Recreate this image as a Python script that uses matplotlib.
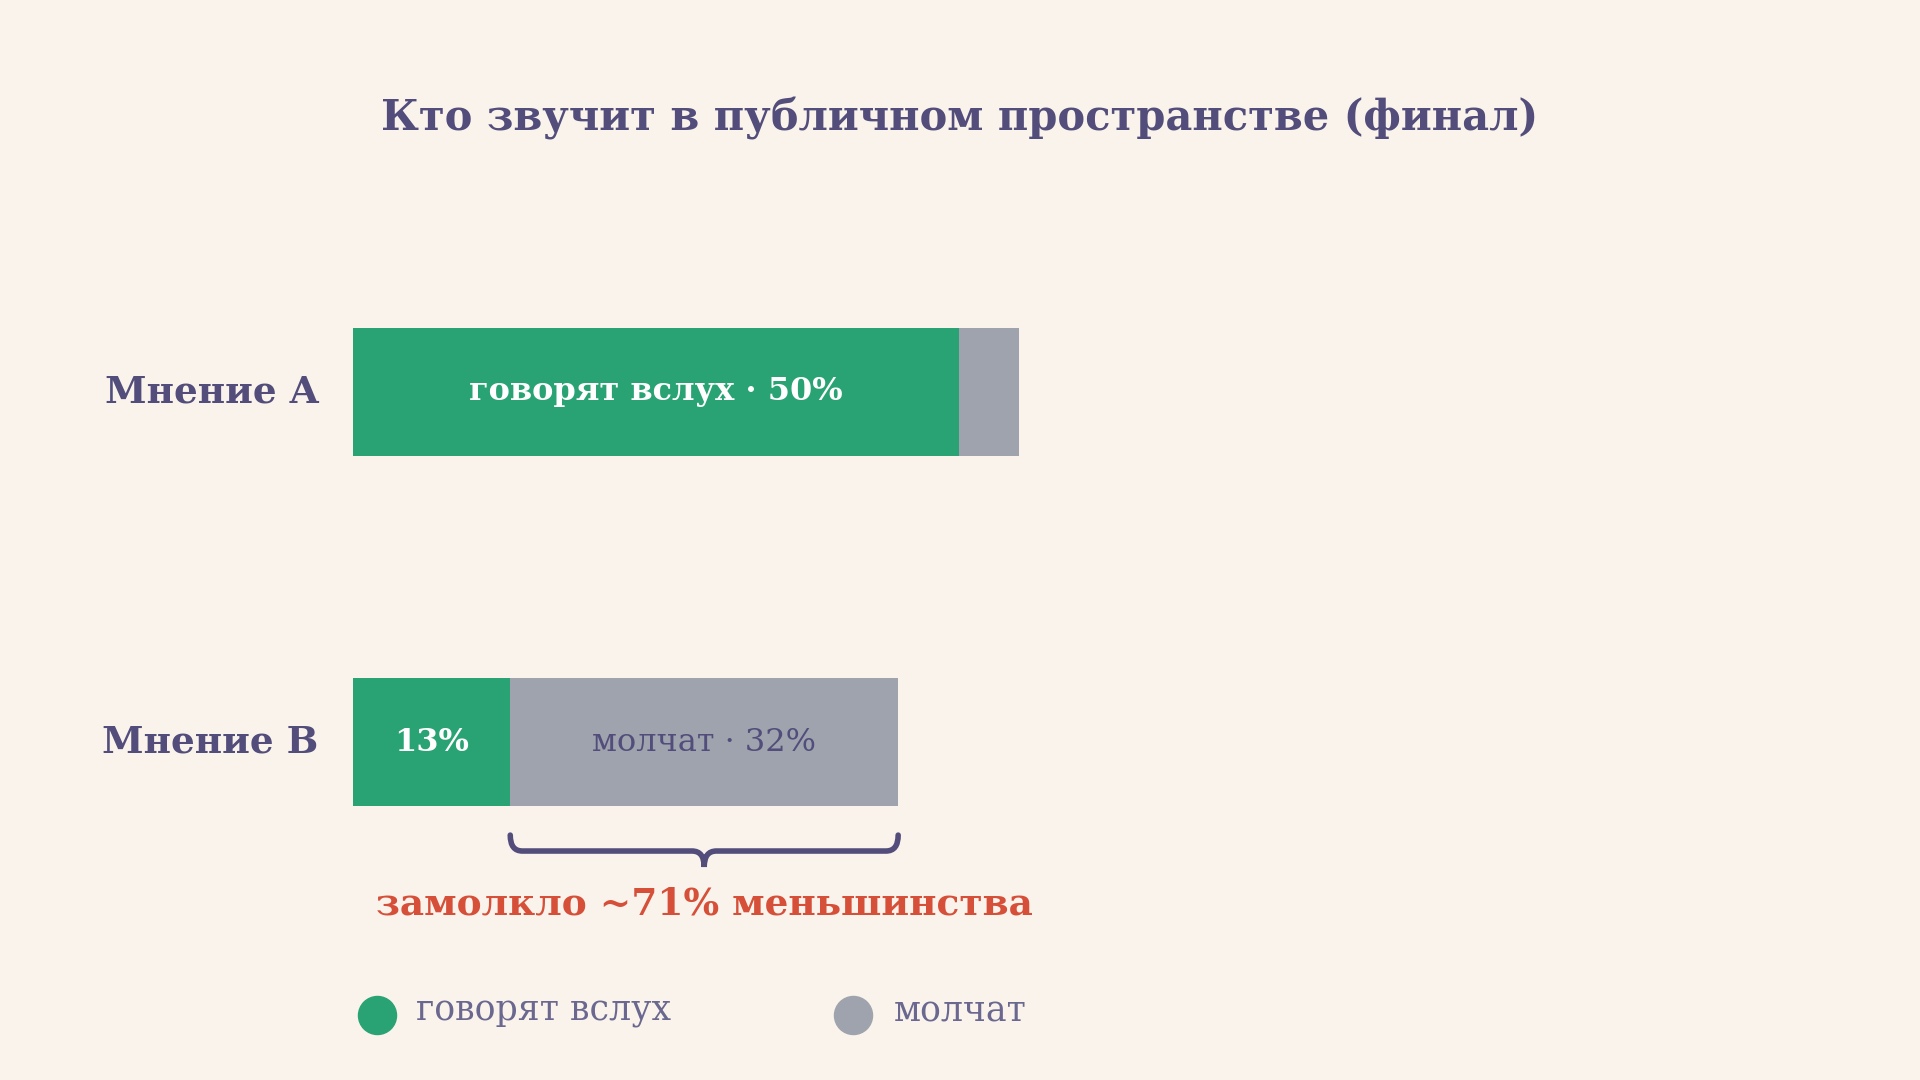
import matplotlib
matplotlib.use("Agg")
import matplotlib.pyplot as plt
from matplotlib.path import Path
from matplotlib.patches import PathPatch, Circle

categories = ["Мнение A", "Мнение B"]
speak = [50, 13]
silent = [5, 32]
legend_labels = ["говорят вслух", "молчат"]
title = "Кто звучит в публичном пространстве (финал)"
note = "замолкло ~71% меньшинства"

BG = "#faf3ec"; GREEN = "#2aa374"; GREY = "#9ea3ae"; INK = "#524d7a"; RED = "#d64f38"
plt.rcParams['font.family'] = ['DejaVu Serif']

fig = plt.figure(figsize=(19.2, 10.8), dpi=100, facecolor=BG)
ax = fig.add_axes([0, 0, 1, 1], facecolor=BG)
S = 9.9  # px per percent (in 1568-wide reference units)
ax.set_xlim(-288 / S, (1568 - 288) / S)
ax.set_ylim(882, 0)
ax.axis("off")

ys = [320, 606]
H = 104
ax.barh(ys, speak, height=H, color=GREEN)
ax.barh(ys, silent, left=speak, height=H, color=GREY)

ax.text(784 / S - 288 / S, 97, title, ha="center", va="center", fontsize=30,
        fontweight="bold", color=INK)
for y, c in zip(ys, categories):
    ax.text(-2.8, y, c, ha="right", va="center", fontsize=27, fontweight="bold", color=INK)

ax.text(speak[0] / 2, ys[0], f"{legend_labels[0]} · {speak[0]}%", ha="center", va="center",
        fontsize=23, fontweight="bold", color="white")
ax.text(speak[1] / 2, ys[1], f"{speak[1]}%", ha="center", va="center",
        fontsize=23, fontweight="bold", color="white")
ax.text(speak[1] + silent[1] / 2, ys[1], f"{legend_labels[1]} · {silent[1]}%", ha="center",
        va="center", fontsize=23, color=INK)

# brace under the silent part of B
x0 = speak[1]; x1 = speak[1] + silent[1]; xm = (x0 + x1) / 2
yt, yb, yp = 682, 695, 708
d = 1.0
verts = [(x0, yt), (x0, yb), (x0 + d, yb), (xm - d, yb), (xm, yb), (xm, yp),
         (xm, yb), (xm + d, yb), (x1 - d, yb), (x1, yb), (x1, yt)]
codes = [Path.MOVETO, Path.CURVE3, Path.CURVE3, Path.LINETO, Path.CURVE3, Path.CURVE3,
         Path.CURVE3, Path.CURVE3, Path.LINETO, Path.CURVE3, Path.CURVE3]
ax.add_patch(PathPatch(Path(verts, codes), fill=False, lw=4, edgecolor=INK, capstyle="round"))
ax.text(xm, 738, note, ha="center", va="center", fontsize=27, fontweight="bold", color=RED)

# legend
for xc, xt, col, lab in [(308, 340, GREEN, legend_labels[0]), (697, 730, GREY, legend_labels[1])]:
    ax.scatter([(xc - 288) / S], [829], s=750, color=col, zorder=3)
    ax.text((xt - 288) / S, 826, lab, ha="left", va="center", fontsize=25, color="#6b6890")

fig.savefig("out.png", dpi=100, facecolor=BG)
